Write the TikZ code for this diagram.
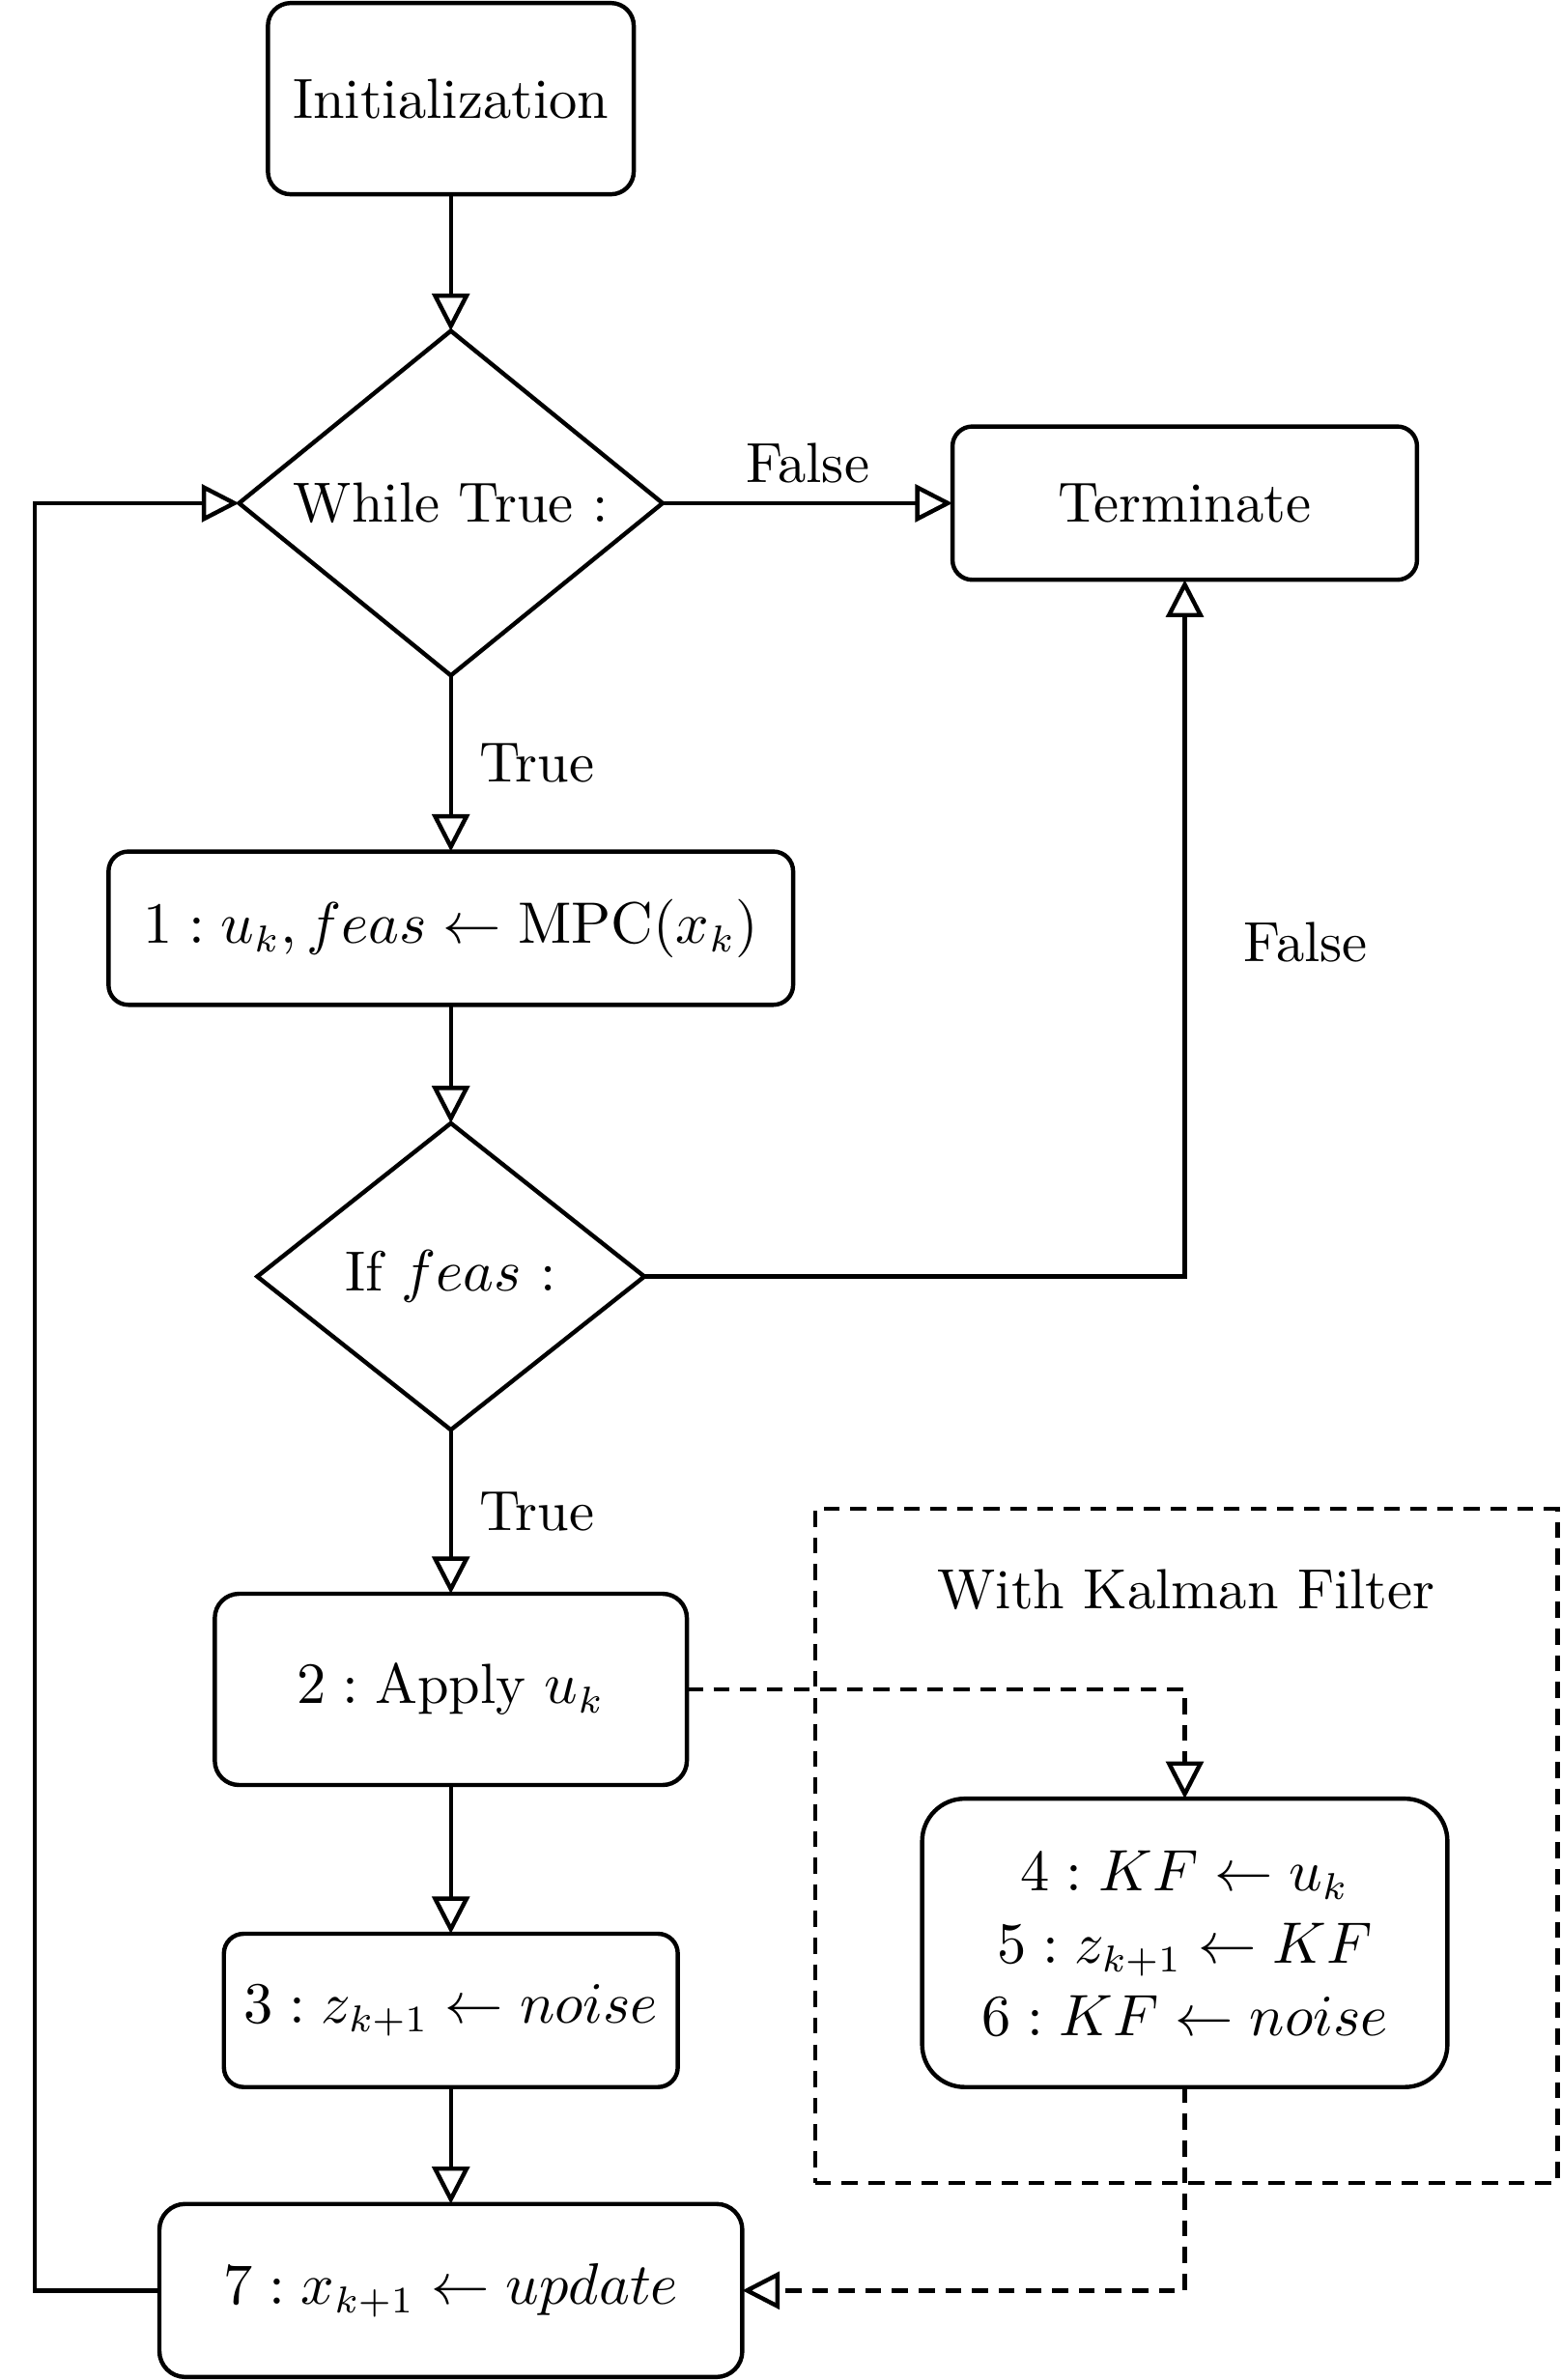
\documentclass[tikz,border=0pt]{standalone}
\usepackage{amsmath}
\usepackage{tikz}
\usetikzlibrary{positioning, calc, shapes.geometric, arrows.meta, backgrounds}
\definecolor{clLine}{RGB}{0,0,0}
\tikzset{
  every node/.style={font=\fontsize{10.6pt}{13pt}\selectfont},
  %% rounded process box
  proc/.style={
    rectangle, rounded corners=0.13cm,
    align=center, draw=clLine, thick, inner sep=0pt, outer sep=0pt
  },
  %% decision diamond
  cond/.style={
    diamond, align=center, draw=clLine, thick, inner sep=0pt, outer sep=0pt
  },
  %% arrows
  arr/.style={
    -{Triangle[open, length=7pt, width=7pt]},
    thick, color=clLine
  },
  arrDash/.style={arr, dash pattern=on 3pt off 2pt},
  lbl/.style={inner sep=1pt}
}

\begin{document}
\begin{tikzpicture}

\useasboundingbox (0,0) rectangle (10.28,-15.68);

%% ═══════════════════════════════════════════════════════════════
%%  MAIN COLUMN
%% ═══════════════════════════════════════════════════════════════

\node[proc, minimum width=2.41cm, minimum height=1.26cm, rounded corners=0.15cm]
  (init) at (2.97,-0.65) {Initialization};

\node[cond, minimum width=2.79cm, minimum height=2.27cm, aspect=1.23,
  below=0.90cm of init] (while) {While True :};

\node[proc, minimum width=4.51cm, minimum height=1.01cm,
  below=1.16cm of while] (mpc) {$1 : u_k, feas \leftarrow \mathrm{MPC}(x_k)$};

\node[cond, minimum width=2.55cm, minimum height=2.02cm, aspect=1.26,
  below=0.78cm of mpc] (iffeas) {If $feas$ :};

\node[proc, minimum width=3.11cm, minimum height=1.26cm, rounded corners=0.16cm,
  below=1.08cm of iffeas] (apply) {$2 : \text{Apply}\ u_k$};

\node[proc, minimum width=2.99cm, minimum height=1.01cm,
  below=0.98cm of apply] (noise) {$3 : z_{k+1} \leftarrow noise$};

\node[proc, minimum width=3.84cm, minimum height=1.14cm, rounded corners=0.17cm,
  below=0.77cm of noise] (update) {$7 : x_{k+1} \leftarrow update$};

%% ═══════════════════════════════════════════════════════════════
%%  RIGHT COLUMN
%% ═══════════════════════════════════════════════════════════════

\node[proc, minimum width=3.06cm, minimum height=1.01cm,
  right=1.91cm of while] (term) {Terminate};

\node[proc, minimum width=3.46cm, minimum height=1.90cm, rounded corners=0.28cm,
  below=8.03cm of term] (kf) {
  $4 : KF \leftarrow u_k$\\[0.6pt]
  $5 : z_{k+1} \leftarrow KF$\\[0.6pt]
  $6 : KF \leftarrow noise$
};

%% dashed frame -- Kalman filter variant
\begin{scope}[on background layer]
  \node[draw=clLine, thick, dash pattern=on 3pt off 2pt,
    minimum width=4.89cm, minimum height=4.44cm, inner sep=0pt, outer sep=0pt]
    (kfBox) at (7.815,-12.16) {};
\end{scope}
\node[below=0.39cm of kfBox.north, inner sep=0pt] (kfTitle) {With Kalman Filter};

%% ═══════════════════════════════════════════════════════════════
%%  ARROWS
%% ═══════════════════════════════════════════════════════════════

\draw[arr] (init) -- (while);

\draw[arr] (while.east) --
  node[lbl, above=0.08cm]{False} (term.west);

\draw[arr] (while.south) --
  node[lbl, right=0.14cm]{True} (mpc.north);

\draw[arr] (mpc) -- (iffeas);

%% if -> terminate  (right, then up)
\draw[arr] (iffeas.east) -|
  node[lbl, right=0.34cm, pos=0.74]{False} (term.south);

\draw[arr] (iffeas.south) --
  node[lbl, right=0.14cm]{True} (apply.north);

\draw[arr] (apply) -- (noise);
\draw[arr] (noise) -- (update);

%% Kalman filter branch
\draw[arrDash] (apply.east) -| (kf.north);
\draw[arrDash] (kf.south) |- (update.east);

%% loop back to the while condition
\draw[arr] (update.west) -- ++(-0.82,0) |- (while.west);

\end{tikzpicture}
\end{document}
